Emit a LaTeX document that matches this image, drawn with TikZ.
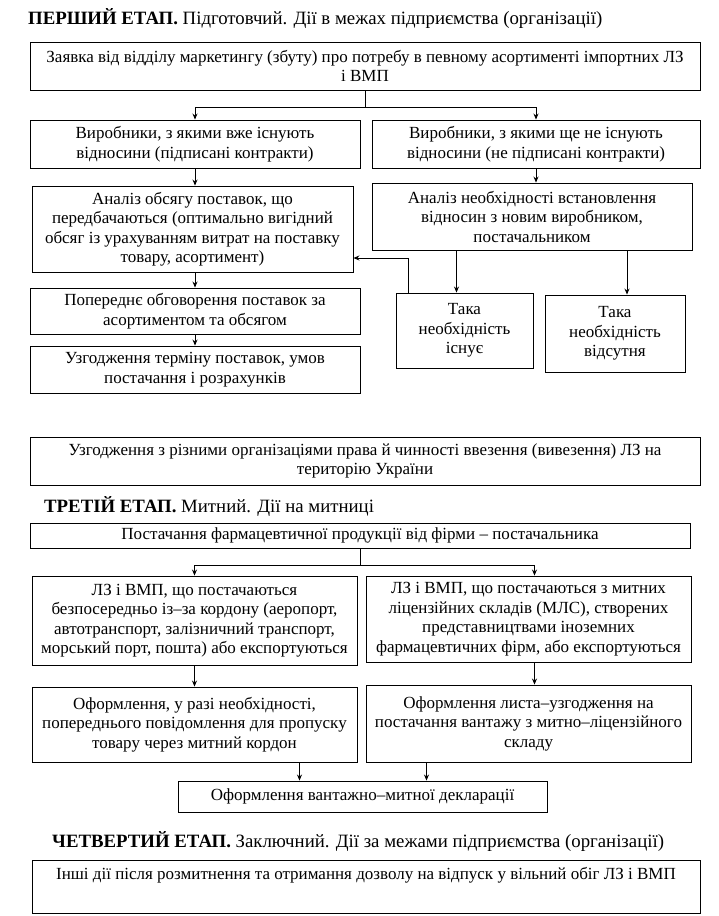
\documentclass[tikz,border=0pt]{standalone}
\usepackage{fontspec}
\setmainfont{Liberation Serif}
\usetikzlibrary{arrows.meta, positioning, calc}

\begin{document}
\begin{tikzpicture}[
    x=1pt, y=-1pt,
    block/.style={
            rectangle,
            draw,
            line width=0.9pt,
            align=center,
            inner sep=2pt,
            font=\fontsize{17}{19.5}\selectfont
        },
    stage_title/.style={anchor=west, inner sep=0pt, font=\fontsize{18.8}{22}\selectfont},
    arrow/.style={-{Stealth[length=6pt, width=5pt]}, line width=0.8pt},
    ]
    \useasboundingbox (0,0) rectangle (719,916);

    % --- Stage 1 ---
    \node (stage_one) [stage_title] at (28,18) {\textbf{ПЕРШИЙ ЕТАП.} Підготовчий. Дії в межах підприємства (організації)};

    \node (request) [block, minimum width=670pt, minimum height=48pt] at (365,66)
        {Заявка від відділу маркетингу (збуту) про потребу в певному асортименті імпортних ЛЗ\\ і ВМП};
    \node (known_makers) [block, minimum width=330pt, minimum height=48pt] at (195,144)
        {Виробники, з якими вже існують\\ відносини (підписані контракти)};
    \node (new_makers) [block, minimum width=328pt, minimum height=48pt] at (536,144)
        {Виробники, з якими ще не існують\\ відносини (не підписані контракти)};
    \node (volume) [block, minimum width=321pt, minimum height=86pt] at (192.5,229)
        {Аналіз обсягу поставок, що\\ передбачаються (оптимально вигідний\\ обсяг із урахуванням витрат на поставку\\ товару, асортимент)};
    \node (need) [block, minimum width=320pt, minimum height=67pt] at (532,216.5)
        {Аналіз необхідності встановлення\\ відносин з новим виробником,\\ постачальником};
    \node (talks) [block, minimum width=330pt, minimum height=46pt] at (195,311)
        {Попереднє обговорення поставок за\\ асортиментом та обсягом};
    \node (terms) [block, minimum width=330pt, minimum height=47pt] at (195,369.5)
        {Узгодження терміну поставок, умов\\ постачання і розрахунків};
    \node (need_yes) [block, minimum width=137pt, minimum height=75pt] at (464.5,330.5)
        {Така\\ необхідність\\ існує};
    \node (need_no) [block, minimum width=140pt, minimum height=77pt] at (615,333.5)
        {Така\\ необхідність\\ відсутня};

    % --- Stage 2 ---
    \node (rights) [block, minimum width=670pt, minimum height=48pt] at (365,461)
        {Узгодження з різними організаціями права й чинності ввезення (вивезення) ЛЗ на\\ територію України};

    % --- Stage 3 ---
    \node (stage_three) [stage_title] at (44,506) {\textbf{ТРЕТІЙ ЕТАП.} Митний. Дії на митниці};

    \node (supply) [block, minimum width=660pt, minimum height=25pt] at (360,535.5)
        {Постачання фармацевтичної продукції від фірми – постачальника};
    \node (direct) [block, minimum width=325pt, minimum height=89pt] at (194.5,620.5)
        {ЛЗ і ВМП, що постачаються\\ безпосередньо із–за кордону (аеропорт,\\ автотранспорт, залізничний транспорт,\\ морський порт, пошта) або експортуються};
    \node (warehouse) [block, minimum width=325pt, minimum height=86pt] at (528.5,619)
        {ЛЗ і ВМП, що постачаються з митних\\ ліцензійних складів (МЛС), створених\\ представництвами іноземних\\ фармацевтичних фірм, або експортуються};
    \node (notice) [block, minimum width=325pt, minimum height=75pt] at (194.5,724.5)
        {Оформлення, у разі необхідності,\\ попереднього повідомлення для пропуску\\ товару через митний кордон};
    \node (letter) [block, minimum width=325pt, minimum height=77pt] at (528.5,723.5)
        {Оформлення листа–узгодження на\\ постачання вантажу з митно–ліцензійного\\ складу};
    \node (declaration) [block, minimum width=369pt, minimum height=31pt] at (362.5,796.5)
        {Оформлення вантажно–митної декларації};

    % --- Stage 4 ---
    \node (stage_four) [stage_title] at (52,841) {\textbf{ЧЕТВЕРТИЙ ЕТАП.} Заключний. Дії за межами підприємства (організації)};

    \node (release) [block, minimum width=668pt, minimum height=53pt] at (366,886.5)
        {Інші дії після розмитнення та отримання дозволу на відпуск у вільний обіг ЛЗ і ВМП\\ \strut};

    % --- Arrows ---
    \draw[line width=0.8pt] (request.south) -- ++(0,17) coordinate (split_one);
    \draw[arrow] (split_one) -| (known_makers.north);
    \draw[arrow] (split_one) -| (new_makers.north);
    \draw[arrow] (known_makers.south) -- (known_makers.south |- volume.north);
    \draw[arrow] (new_makers.south) -- (new_makers.south |- need.north);
    \draw[arrow] (volume.south) -- (volume.south -| talks.north) -- (talks.north);
    \draw[arrow] (talks.south) -- (terms.north);
    \draw[arrow] ([xshift=-8pt]need_yes.north |- need.south) -- ([xshift=-8pt]need_yes.north);
    \draw[arrow] ([xshift=12pt]need_no.north |- need.south) -- ([xshift=12pt]need_no.north);
    \draw[arrow] ([xshift=-56pt]need_yes.north) |- ([yshift=-29pt]volume.east);

    \draw[line width=0.8pt] (supply.south) -- ++(0,17) coordinate (split_three);
    \draw[arrow] (split_three) -| (direct.north);
    \draw[arrow] (split_three) -| ([xshift=6pt]warehouse.north);
    \draw[arrow] (direct.south) -- (notice.north);
    \draw[arrow] ([xshift=6pt]warehouse.south) -- ([xshift=6pt]warehouse.south |- letter.north);
    \draw[arrow] ([xshift=-63pt]declaration.north |- notice.south) -- ([xshift=-63pt]declaration.north);
    \draw[arrow] ([xshift=64pt]declaration.north |- letter.south) -- ([xshift=64pt]declaration.north);

\end{tikzpicture}
\end{document}
